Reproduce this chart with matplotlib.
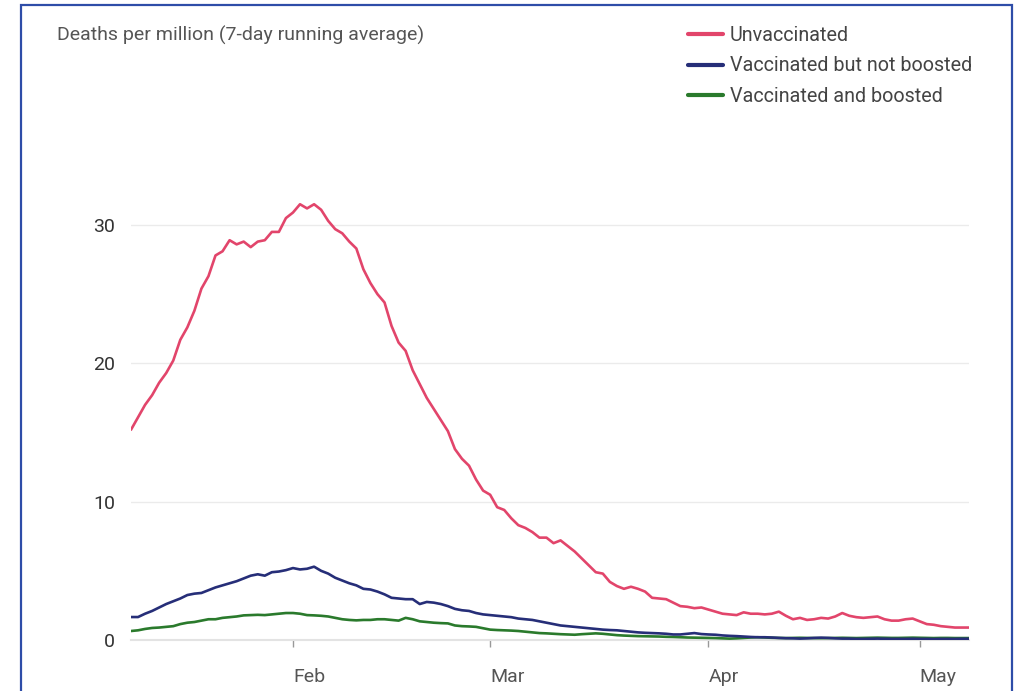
import numpy as np
import pandas as pd
import matplotlib
matplotlib.use("Agg")
import matplotlib.pyplot as plt
import matplotlib.dates as mdates
from matplotlib.patches import Rectangle

plt.rcParams['font.family'] = ['Roboto', 'DejaVu Sans']

start_date = "2022-01-09"
unvaccinated = [
    15.2, 16.1, 17.0, 17.7, 18.6, 19.3, 20.2, 21.7, 22.6, 23.8,
    25.4, 26.3, 27.8, 28.1, 28.9, 28.6, 28.8, 28.4, 28.8, 28.9,
    29.5, 29.5, 30.5, 30.9, 31.5, 31.2, 31.5, 31.1, 30.3, 29.7,
    29.4, 28.8, 28.3, 26.8, 25.8, 25.0, 24.4, 22.7, 21.5, 20.9,
    19.5, 18.5, 17.5, 16.7, 15.9, 15.1, 13.8, 13.1, 12.6, 11.6,
    10.8, 10.5, 9.6, 9.4, 8.8, 8.3, 8.1, 7.8, 7.4, 7.4,
    7.0, 7.2, 6.8, 6.4, 5.9, 5.4, 4.9, 4.8, 4.2, 3.9,
    3.7, 3.85, 3.7, 3.5, 3.05, 3.0, 2.95, 2.7, 2.45, 2.4,
    2.3, 2.35, 2.2, 2.05, 1.9, 1.85, 1.8, 2.0, 1.9, 1.9,
    1.85, 1.9, 2.05, 1.75, 1.5, 1.6, 1.45, 1.5, 1.6, 1.55,
    1.7, 1.95, 1.75, 1.65, 1.6, 1.65, 1.7, 1.5, 1.4, 1.4,
    1.5, 1.55, 1.35, 1.15, 1.1, 1.0, 0.95, 0.9, 0.9, 0.9,
]
not_boosted = [
    1.66, 1.66, 1.9, 2.1, 2.35, 2.6, 2.8, 3.0, 3.25, 3.35,
    3.4, 3.6, 3.8, 3.95, 4.1, 4.25, 4.45, 4.65, 4.75, 4.65,
    4.9, 4.95, 5.05, 5.2, 5.1, 5.15, 5.3, 5.0, 4.8, 4.5,
    4.3, 4.1, 3.95, 3.7, 3.65, 3.5, 3.3, 3.05, 3.0, 2.95,
    2.95, 2.6, 2.75, 2.7, 2.6, 2.45, 2.25, 2.15, 2.1, 1.95,
    1.85, 1.8, 1.75, 1.7, 1.65, 1.55, 1.5, 1.45, 1.35, 1.25,
    1.15, 1.05, 1.0, 0.95, 0.9, 0.85, 0.8, 0.75, 0.72, 0.7,
    0.65, 0.6, 0.55, 0.52, 0.5, 0.48, 0.45, 0.4, 0.4, 0.45,
    0.5, 0.43, 0.4, 0.38, 0.33, 0.3, 0.28, 0.25, 0.22, 0.2,
    0.2, 0.18, 0.15, 0.13, 0.12, 0.1, 0.12, 0.15, 0.17, 0.15,
    0.12, 0.1, 0.1, 0.08, 0.08, 0.09, 0.1, 0.09, 0.08, 0.08,
    0.08, 0.09, 0.08, 0.08, 0.07, 0.08, 0.08, 0.08, 0.09, 0.09,
]
boosted = [
    0.65, 0.7, 0.8, 0.87, 0.9, 0.95, 1.0, 1.15, 1.25, 1.3,
    1.4, 1.5, 1.5, 1.6, 1.65, 1.7, 1.78, 1.8, 1.82, 1.8,
    1.85, 1.9, 1.95, 1.95, 1.9, 1.8, 1.78, 1.75, 1.7, 1.6,
    1.5, 1.45, 1.42, 1.45, 1.45, 1.5, 1.5, 1.45, 1.4, 1.6,
    1.5, 1.35, 1.3, 1.25, 1.22, 1.2, 1.05, 1.0, 0.98, 0.95,
    0.85, 0.75, 0.72, 0.7, 0.68, 0.65, 0.6, 0.55, 0.5, 0.48,
    0.45, 0.42, 0.4, 0.38, 0.42, 0.45, 0.48, 0.45, 0.4, 0.35,
    0.32, 0.3, 0.28, 0.27, 0.26, 0.25, 0.23, 0.22, 0.2, 0.18,
    0.17, 0.16, 0.15, 0.14, 0.12, 0.1, 0.12, 0.15, 0.18, 0.2,
    0.18, 0.16, 0.15, 0.14, 0.15, 0.16, 0.15, 0.14, 0.13, 0.14,
    0.15, 0.16, 0.15, 0.14, 0.15, 0.16, 0.17, 0.16, 0.15, 0.15,
    0.16, 0.17, 0.16, 0.15, 0.14, 0.15, 0.15, 0.14, 0.14, 0.14,
]
series_labels = ["Unvaccinated", "Vaccinated but not boosted", "Vaccinated and boosted"]
series_colors = ["#E2456B", "#262E78", "#2A7A2C"]
y_ticks = [0, 10, 20, 30]
x_tick_dates = ["2022-02-01", "2022-03-01", "2022-04-01", "2022-05-01"]
x_tick_labels = ["Feb", "Mar", "Apr", "May"]

dates = pd.date_range(start_date, periods=len(unvaccinated), freq="D")

W, H = 1015, 691
fig = plt.figure(figsize=(W / 100, H / 100), dpi=100)

# axes placement in pixels
left_px, right_px = 131, 969
y0_px, y30_px = 640, 225
ymax = 35
top_px = y0_px - (y0_px - y30_px) * ymax / 30
ax = fig.add_axes([left_px / W, 1 - y0_px / H, (right_px - left_px) / W, (y0_px - top_px) / H])

ax.plot(dates, boosted, color=series_colors[2], lw=1.9, solid_capstyle="round", zorder=3, label=series_labels[2])
ax.plot(dates, not_boosted, color=series_colors[1], lw=1.9, solid_capstyle="round", zorder=4, label=series_labels[1])
ax.plot(dates, unvaccinated, color=series_colors[0], lw=1.9, solid_capstyle="round", zorder=5, label=series_labels[0])

ax.set_xlim(dates[0], dates[-1])
ax.set_ylim(0, ymax)
ax.set_yticks(y_ticks)
ax.set_yticklabels([str(v) for v in y_ticks])
ax.set_xticks(pd.to_datetime(x_tick_dates))
ax.set_xticklabels(x_tick_labels)

for s in ["top", "right", "left"]:
    ax.spines[s].set_visible(False)
ax.spines["bottom"].set_color("#e3e3e3")
ax.spines["bottom"].set_linewidth(1.5)
ax.grid(axis="y", color="#ebebeb", lw=1.0, zorder=0)
ax.set_axisbelow(True)
ax.tick_params(axis="y", length=0, pad=11.5, labelsize=14, labelcolor="#333333")
ax.tick_params(axis="x", length=5, width=1, color="#999999", pad=15, labelsize=14, labelcolor="#555555")
for lab in ax.get_yticklabels():
    lab.set_horizontalalignment("right")
for lab in ax.get_xticklabels():
    lab.set_horizontalalignment("left")

fig.text(57 / W, 1 - 35 / H, "Deaths per million (7-day running average)", fontsize=14,
         color="#555555", va="center", ha="left")

handles, labels = ax.get_legend_handles_labels()
order = [2, 1, 0]
leg = fig.legend([handles[i] for i in order], [labels[i] for i in order],
                 loc="upper left", bbox_to_anchor=(688 / W, 1 - 26 / H),
                 frameon=False, fontsize=14.2, handlelength=1.75, handletextpad=0.36,
                 labelspacing=0.58, borderaxespad=0, borderpad=0)
for t in leg.get_texts():
    t.set_color("#444444")
for l in leg.get_lines():
    l.set_linewidth(3.0)

# blue border frame
fig.patches.append(Rectangle((21 / W, -0.05), (1012 - 21) / W, 1.05 - 5 / H,
                             transform=fig.transFigure, fill=False,
                             edgecolor="#2E4DA8", lw=1.6))

fig.savefig("out.png", dpi=100)
